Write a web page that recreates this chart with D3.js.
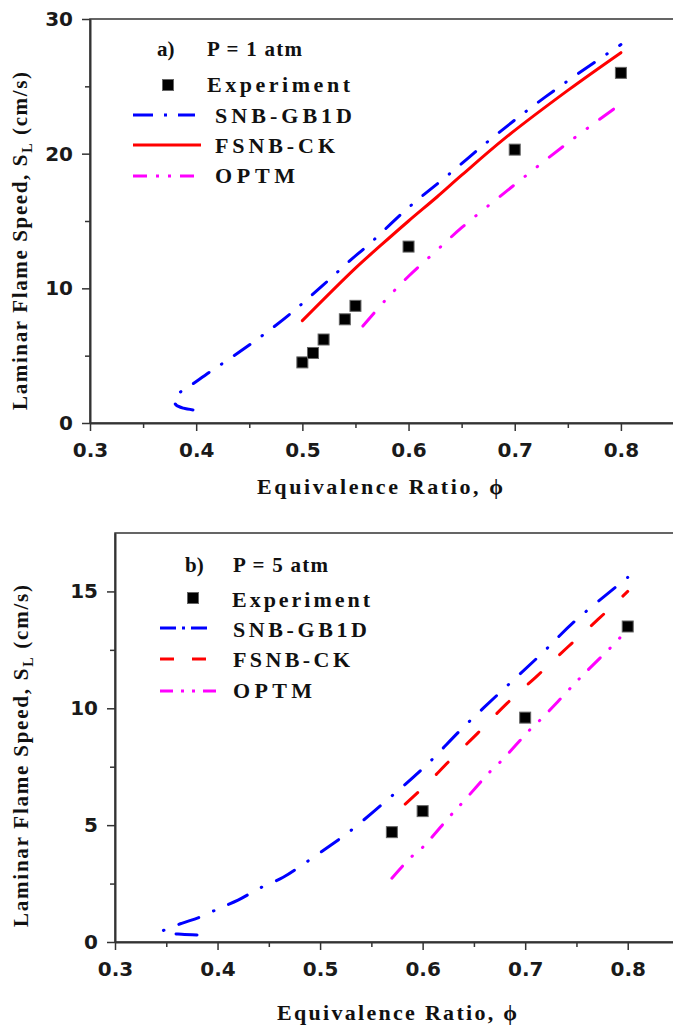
<!DOCTYPE html>
<html>
<head>
<meta charset="utf-8">
<script src="https://cdn.jsdelivr.net/npm/d3@7"></script>
<style>
body { margin: 0; background: #fff; }
svg { display: block; }
.tick text { font-family: "DejaVu Sans"; font-weight: bold; font-size: 20px; fill: #1a1a1a; }
.lbl { font-family: "Liberation Serif"; font-weight: bold; fill: #111; }
</style>
</head>
<body>
<svg id="chart" width="673" height="1025"></svg>
<script>
// ---- values ----
var xTicks = [0.3, 0.4, 0.5, 0.6, 0.7, 0.8];
var xMinor = [0.35, 0.45, 0.55, 0.65, 0.75];

// a) P = 1 atm
var yTicksA = [0, 10, 20, 30];
var yMinorA = [5, 15, 25];
var expPhiA = [0.50, 0.51, 0.52, 0.54, 0.55, 0.60, 0.70, 0.80];
var expSLA  = [4.5, 5.2, 6.2, 7.7, 8.7, 13.1, 20.3, 26.0];
var snbA = [[0.397,0.97],[0.388,1.1],[0.381,1.35],[0.379,1.7],[0.382,2.1],[0.395,2.8],
            [0.413,3.8],[0.432,4.8],[0.452,5.9],[0.47,6.95],[0.49,8.2],[0.5075,9.4],
            [0.526,10.7],[0.544,12.0],[0.5625,13.25],[0.6,16.0],[0.637,18.4],
            [0.677,21.05],[0.715,23.4],[0.7535,25.6],[0.8,28.1]];
var fsnbA = [[0.5,7.6],[0.55,11.5],[0.574,13.2],[0.6,15.0],[0.627,16.8],[0.65,18.4],
             [0.69,21.1],[0.75,24.7],[0.8,27.5]];
var optmA = [[0.557,7.2],[0.578,9.1],[0.6,10.9],[0.625,12.7],[0.65,14.5],[0.7,17.7],
             [0.75,20.8],[0.8,23.7]];

// b) P = 5 atm
var yTicksB = [0, 5, 10, 15];
var yMinorB = [2.5, 7.5, 12.5];
var expPhiB = [0.57, 0.60, 0.70, 0.80];
var expSLB  = [4.7, 5.6, 9.6, 13.5];
var snbB = [[0.38,0.3],[0.365,0.33],[0.352,0.38],[0.346,0.45],[0.352,0.58],[0.365,0.8],
            [0.383,1.07],[0.404,1.49],[0.42,1.79],[0.441,2.3],[0.464,2.77],[0.482,3.28],
            [0.51,4.13],[0.528,4.7],[0.566,6.1],[0.602,7.5],[0.64,9.2],[0.676,10.7],
            [0.714,12.25],[0.749,13.75],[0.8,15.6]];
var fsnbB = [[0.583,5.9],[0.605,6.8],[0.625,7.7],[0.654,8.95],[0.682,10.2],[0.712,11.4],
             [0.741,12.6],[0.771,13.8],[0.8,15.0]];
var optmB = [[0.57,2.73],[0.588,3.6],[0.6,4.05],[0.627,5.4],[0.639,5.97],[0.666,7.3],
             [0.677,7.76],[0.705,9.1],[0.717,9.6],[0.747,11.0],[0.758,11.5],[0.79,12.9],
             [0.8,13.4]];

var seriesNames = ["SNB-GB1D", "FSNB-CK", "OPTM"];
var colors = ["#0000ff", "#ff0000", "#ff00ff"];

var svg = d3.select("#chart");

function drawPanel(p) {
    var x = d3.scaleLinear().domain([0.3, 0.85]).range(p.xr);
    var y = d3.scaleLinear().domain(p.yd).range(p.yr);
    var g = svg.append("g");

    // frame (top edge; right edge falls just outside the window)
    g.append("rect")
        .attr("x", p.xr[0]).attr("y", p.yr[1])
        .attr("width", p.xr[1] - p.xr[0]).attr("height", p.yr[0] - p.yr[1])
        .attr("fill", "none").attr("stroke", "#333").attr("stroke-width", 1.5);

    // minor ticks
    g.append("g").attr("transform", "translate(0," + p.yr[0] + ")")
        .call(d3.axisBottom(x).tickValues(xMinor).tickSize(5).tickFormat(""))
        .call(s => s.select(".domain").remove());
    g.append("g").attr("transform", "translate(" + p.xr[0] + ",0)")
        .call(d3.axisLeft(y).tickValues(p.yMinor).tickSize(5).tickFormat(""))
        .call(s => s.select(".domain").remove());

    // major axes
    g.append("g").attr("transform", "translate(0," + p.yr[0] + ")")
        .call(d3.axisBottom(x).tickValues(xTicks).tickSize(8).tickSizeOuter(0)
            .tickPadding(12).tickFormat(d3.format(".1f")));
    g.append("g").attr("transform", "translate(" + p.xr[0] + ",0)")
        .call(d3.axisLeft(y).tickValues(p.yTicks).tickSize(8).tickSizeOuter(0)
            .tickPadding(9));
    g.selectAll(".domain").attr("stroke", "#333").attr("stroke-width", 2);
    g.selectAll(".tick line").attr("stroke", "#333").attr("stroke-width", 1.5);

    // model curves
    var line = d3.line().x(d => x(d[0])).y(d => y(d[1])).curve(d3.curveCatmullRom);
    p.curves.forEach(function (c, i) {
        g.append("path").datum(c)
            .attr("d", line)
            .attr("fill", "none")
            .attr("stroke", colors[i])
            .attr("stroke-width", 3)
            .attr("stroke-linecap", "round")
            .attr("stroke-dasharray", p.dash[i]);
    });

    // experiment squares
    g.selectAll(".exp").data(p.expPhi).enter().append("rect")
        .attr("class", "exp")
        .attr("x", (d, i) => x(d) - 5.5)
        .attr("y", (d, i) => y(p.expSL[i]) - 5.5)
        .attr("width", 11).attr("height", 11)
        .attr("fill", "#000").attr("stroke", "#666").attr("stroke-width", 1);

    // axis titles
    g.append("text").attr("class", "lbl")
        .attr("x", p.xt[0]).attr("y", p.xt[1])
        .attr("text-anchor", "middle").style("font-size", "22px")
        .attr("textLength", p.xt[2]).attr("lengthAdjust", "spacing")
        .text("Equivalence Ratio, \u03d5");
    var yt = g.append("text").attr("class", "lbl")
        .attr("transform", "rotate(-90)")
        .attr("x", -p.yt[0]).attr("y", p.yt[1])
        .attr("text-anchor", "middle").style("font-size", "21px")
        .attr("textLength", p.yt[2]).attr("lengthAdjust", "spacing");
    yt.append("tspan").text("Laminar Flame Speed, S");
    yt.append("tspan").attr("dy", 5).style("font-size", "14px").text("L");
    yt.append("tspan").attr("dy", -5).text(" (cm/s)");

    // legend
    var L = p.leg;
    g.append("text").attr("class", "lbl").style("font-size", "21px")
        .attr("x", L.tag[0]).attr("y", L.tag[1]).text(p.tag);
    g.append("text").attr("class", "lbl").style("font-size", "21px")
        .attr("x", L.press[0]).attr("y", L.press[1])
        .attr("textLength", 95).attr("lengthAdjust", "spacing").text(p.press);
    g.append("rect")
        .attr("x", L.sq[0] - 5.5).attr("y", L.sq[1] - 5.5)
        .attr("width", 11).attr("height", 11)
        .attr("fill", "#000").attr("stroke", "#666");
    g.append("text").attr("class", "lbl").style("font-size", "22px")
        .attr("x", L.exp[0]).attr("y", L.exp[1])
        .attr("textLength", L.exp[2]).attr("lengthAdjust", "spacing").text("Experiment");
    seriesNames.forEach(function (name, i) {
        g.append("line")
            .attr("x1", L.x1).attr("x2", L.x2[i])
            .attr("y1", L.ly[i]).attr("y2", L.ly[i])
            .attr("stroke", colors[i]).attr("stroke-width", 3)
            .attr("stroke-linecap", "butt")
            .attr("stroke-dasharray", L.dash[i]);
        g.append("text").attr("class", "lbl").style("font-size", "22px")
            .attr("x", L.tx).attr("y", L.ty[i])
            .attr("textLength", L.tl[i]).attr("lengthAdjust", "spacing")
            .text(name);
    });
}

drawPanel({
    xr: [90, 674], yr: [423, 19], yd: [0, 30],
    yTicks: yTicksA, yMinor: yMinorA,
    expPhi: expPhiA, expSL: expSLA,
    curves: [snbA, fsnbA, optmA],
    dash: ["19,15,0.5,15", null, "17,15,0.5,15,0.5,15"],
    xt: [380, 494, 246], yt: [241, 27, 338],
    tag: "a)", press: "P = 1 atm",
    leg: {
        tag: [157, 56], press: [207, 56], sq: [168, 85], exp: [207, 92, 143],
        x1: 133, x2: [195, 201, 197], ly: [115, 145, 176],
        dash: ["20,11,3,11", null, "14,9,3,9,3,9"],
        tx: 215, ty: [123, 153, 183], tl: [137, 120, 80]
    }
});

drawPanel({
    xr: [115, 679], yr: [942, 533], yd: [0, 17.5],
    yTicks: yTicksB, yMinor: yMinorB,
    expPhi: expPhiB, expSL: expSLB,
    curves: [snbB, fsnbB, optmB],
    dash: ["21,16,0.5,16", "17,26", "16,13.5,0.5,13.5,0.5,13.5"],
    xt: [397, 1020, 240], yt: [756, 28, 342],
    tag: "b)", press: "P = 5 atm",
    leg: {
        tag: [185, 572], press: [233, 572], sq: [193, 598], exp: [232, 607, 138],
        x1: 160, x2: [211, 210, 222], ly: [628, 659, 691],
        dash: ["16,6,3,6", "14,18", "13,8,3,8,3,8"],
        tx: 233, ty: [637, 667, 698], tl: [134, 117, 79]
    }
});
</script>
</body>
</html>
